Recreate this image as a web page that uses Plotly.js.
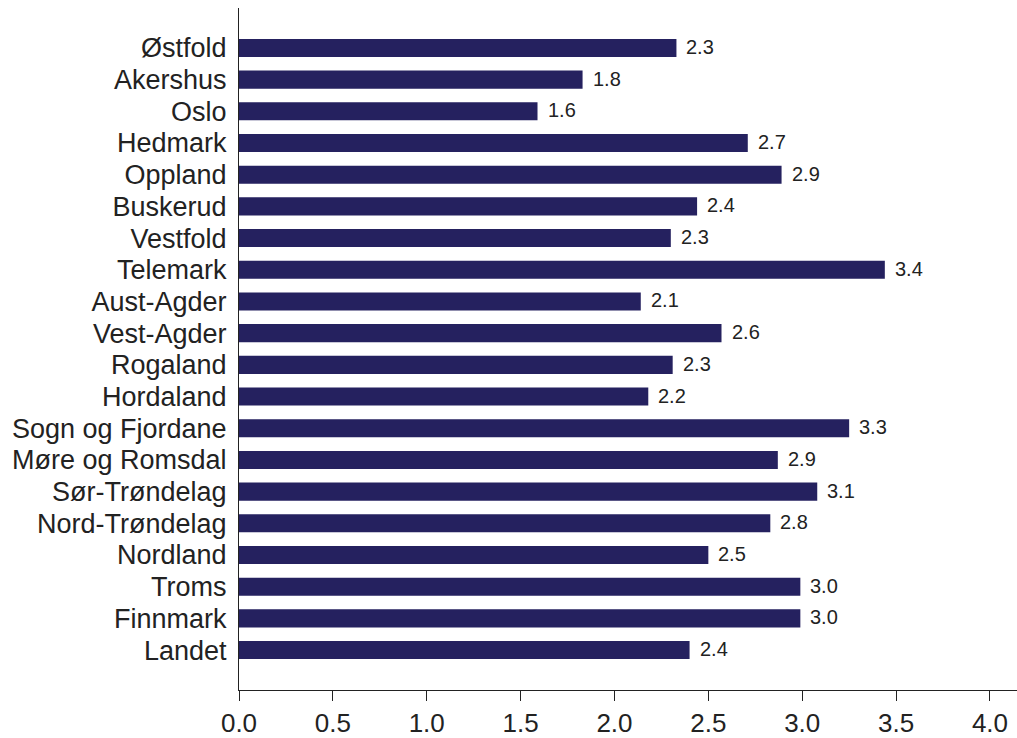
<!DOCTYPE html>
<html><head><meta charset="utf-8">
<script src="https://cdn.plot.ly/plotly-3.0.1.min.js"></script>
<style>html,body{margin:0;padding:0;background:#fff}#c{width:1017px;height:738px}</style>
</head><body><div id="c"></div>
<script>
const regions = ["Østfold","Akershus","Oslo","Hedmark","Oppland","Buskerud","Vestfold","Telemark","Aust-Agder","Vest-Agder","Rogaland","Hordaland","Sogn og Fjordane","Møre og Romsdal","Sør-Trøndelag","Nord-Trøndelag","Nordland","Troms","Finnmark","Landet"];
const values = [2.33,1.83,1.59,2.71,2.89,2.44,2.30,3.44,2.14,2.57,2.31,2.18,3.25,2.87,3.08,2.83,2.50,2.99,2.99,2.40];
const labels = ["2.3","1.8","1.6","2.7","2.9","2.4","2.3","3.4","2.1","2.6","2.3","2.2","3.3","2.9","3.1","2.8","2.5","3.0","3.0","2.4"];
const tickVals = [0,0.5,1,1.5,2,2.5,3,3.5,4];
const tickText = ["0.0","0.5","1.0","1.5","2.0","2.5","3.0","3.5","4.0"];

const FONT = 'Liberation Sans, Arial, sans-serif';
const annotations = regions.map((r,i)=>({
  x: values[i], y: r, xref:'x', yref:'y', text: labels[i], showarrow:false,
  xanchor:'left', yanchor:'middle', xshift:8, yshift:1,
  font:{family:FONT, size:20, color:'#222'}
}));

Plotly.newPlot('c',[{
  type:'bar', orientation:'h', y:regions, x:values,
  marker:{color:'#25215f'}, width:0.57, hoverinfo:'none'
}],{
  width:1017, height:738,
  margin:{l:239,r:0,t:8,b:48},
  paper_bgcolor:'#fff', plot_bgcolor:'#fff',
  showlegend:false,
  font:{family:FONT, color:'#222'},
  annotations: annotations,
  xaxis:{range:[0,4.144], tickmode:'array', tickvals:tickVals, ticktext:tickText, ticks:'outside', ticklen:10, tickwidth:1, tickcolor:'#222',
    showgrid:false, zeroline:false, showline:true, linecolor:'#222', linewidth:1,
    tickfont:{size:26, color:'#222'}},
  yaxis:{type:'category', range:[20.26,-1.26], tickmode:'array', tickvals:regions, ticktext:regions,
    showgrid:false, zeroline:false, showline:true, linecolor:'#222', linewidth:1,
    ticks:'', ticklabelstandoff:6, tickfont:{size:27, color:'#222'}}
},{displayModeBar:false, staticPlot:true});
</script></body></html>
